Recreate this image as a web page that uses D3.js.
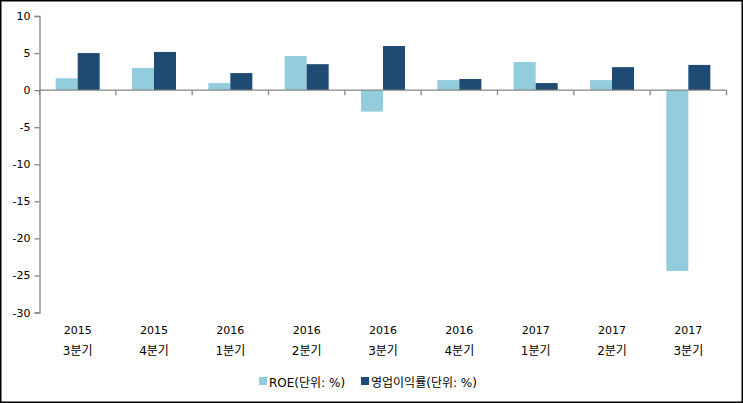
<!DOCTYPE html>
<html><head><meta charset="utf-8">
<script src="https://cdn.jsdelivr.net/npm/d3@7"></script>
<style>
html,body{margin:0;padding:0;background:#fff;}
text{font-family:"DejaVu Sans","Noto Sans CJK KR",sans-serif;}
</style></head>
<body>
<svg id="c" width="743" height="403"></svg>
<script>
const years = ["2015","2015","2016","2016","2016","2016","2017","2017","2017"];
const quarters = ["3분기","4분기","1분기","2분기","3분기","4분기","1분기","2분기","3분기"];
const roe = [1.6, 3.0, 0.95, 4.6, -2.9, 1.35, 3.8, 1.35, -24.4];
const opMargin = [5.0, 5.15, 2.3, 3.5, 5.95, 1.5, 0.95, 3.1, 3.4];
const yTicks = [10, 5, 0, -5, -10, -15, -20, -25, -30];
const seriesNames = ["ROE(단위: %)", "영업이익률(단위: %)"];
const colors = ["#93CDDD", "#1F4A73"];

(function(){
const svg = d3.select("#c");
svg.append("rect").attr("x",0.75).attr("y",0.75).attr("width",741.5).attr("height",401.5)
  .attr("fill","#fff").attr("stroke","#000").attr("stroke-width",1.5);

const pl = 39.5, pr = 726.5, pt = 16, pb = 312.5;
const y = d3.scaleLinear().domain([-30, 10]).range([pb, pt]);
const idx = d3.range(years.length);
const x = d3.scaleBand().domain(idx).range([pl, pr]).paddingInner(0).paddingOuter(0);
const xs = d3.scaleBand().domain([0,1]).range([0, x.bandwidth()]).paddingInner(0).paddingOuter(0.735);

const axisColor = "#868686";
const data = [roe, opMargin];
data.forEach((vals, s) => {
  svg.append("g").selectAll("rect").data(vals).join("rect")
    .attr("x", (d,i) => x(i) + xs(s))
    .attr("width", xs.bandwidth())
    .attr("y", d => y(Math.max(0,d)))
    .attr("height", d => Math.abs(y(d) - y(0)))
    .attr("fill", colors[s]);
});

const ya = svg.append("g").attr("transform", `translate(${pl},0)`)
  .call(d3.axisLeft(y).tickValues(yTicks).tickSize(5).tickPadding(4).tickFormat(d => String(d)));
ya.select(".domain").attr("stroke", axisColor).attr("stroke-width",1.3);
ya.selectAll(".tick line").attr("stroke", axisColor).attr("stroke-width",1.3);
ya.selectAll("text").attr("fill","#000").attr("font-size","11px")
  .attr("font-family","'DejaVu Sans',sans-serif");

const xa = svg.append("g").attr("transform", `translate(0,${y(0)})`);
xa.append("line").attr("x1", pl).attr("x2", pr).attr("stroke", axisColor).attr("stroke-width",1.3);
xa.selectAll("line.t").data(d3.range(years.length+1)).join("line").attr("class","t")
  .attr("x1", i => pl + i*x.bandwidth()).attr("x2", i => pl + i*x.bandwidth())
  .attr("y1", 0).attr("y2", 5).attr("stroke", axisColor).attr("stroke-width",1.3);

const lab = svg.append("g");
lab.selectAll("text.yr").data(years).join("text").attr("class","yr")
  .attr("x", (d,i) => x(i) + x.bandwidth()/2).attr("y", 334)
  .attr("text-anchor","middle").attr("font-size","11px").text(d => d);
lab.selectAll("text.q").data(quarters).join("text").attr("class","q")
  .attr("x", (d,i) => x(i) + x.bandwidth()/2).attr("y", 355)
  .attr("text-anchor","middle").attr("font-size","12px").text(d => d);

const lx = [259, 361];
seriesNames.forEach((n, s) => {
  svg.append("rect").attr("x", lx[s]).attr("y", 377).attr("width", 8).attr("height", 8).attr("fill", colors[s]);
  svg.append("text").attr("x", lx[s] + 10).attr("y", 386.5).attr("font-size","12px").text(n);
});
})();
</script>
</body></html>
